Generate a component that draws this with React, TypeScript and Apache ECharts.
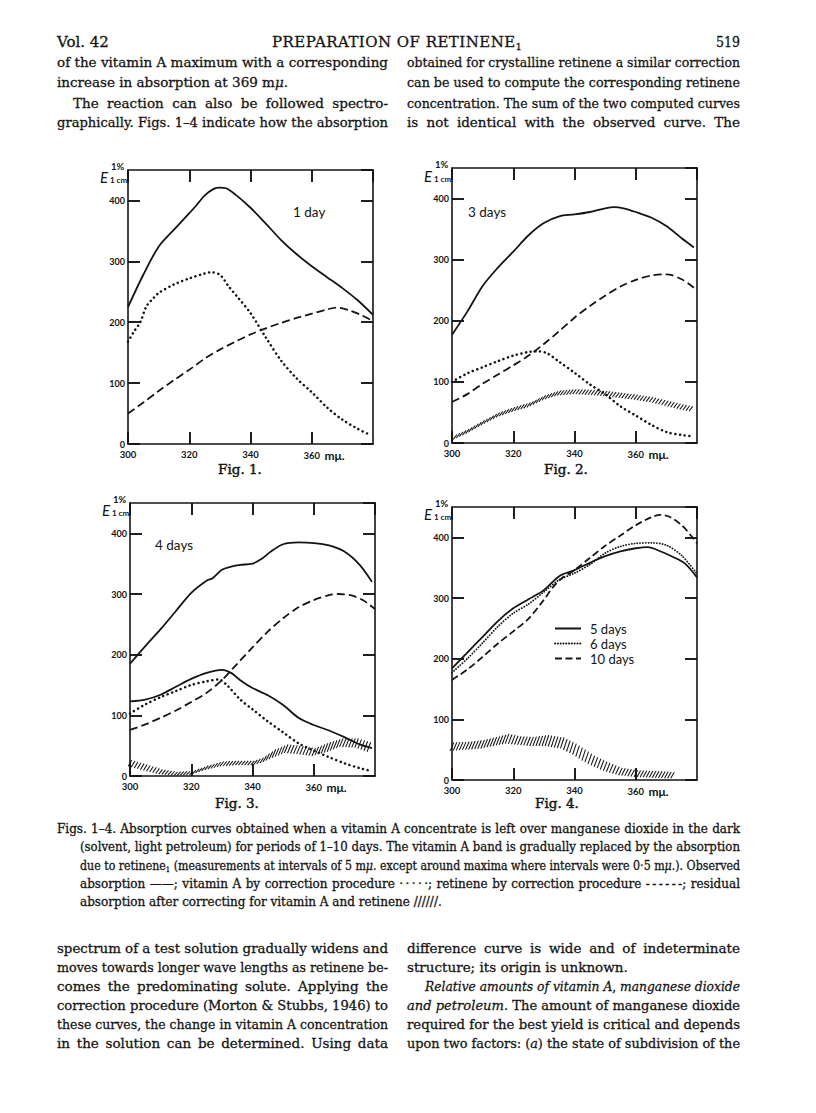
import React, { useEffect, useLayoutEffect, useRef } from "react";
import * as echarts from "echarts";

const INK = "#141414";

// ---------- Fig. 1 : 1 day ----------
const fig1ObsX = [300, 305, 310, 315, 320, 322, 325, 328, 330, 332, 335, 340, 345, 350, 355, 360, 365, 370, 375, 380];
const fig1ObsY = [225, 278, 324, 352, 379, 390, 408, 419, 421, 420, 410, 388, 362, 335, 312, 292, 274, 256, 236, 212];
const fig1VitX = [300, 302, 304, 306, 308, 310, 315, 320, 325, 327, 330, 333, 336, 340, 345, 350, 355, 360, 365, 370, 375, 379];
const fig1VitY = [168, 185, 200, 226, 238, 248, 262, 272, 280, 282, 278, 258, 240, 215, 175, 137, 108, 85, 60, 40, 25, 15];
const fig1RetX = [300, 305, 310, 315, 320, 325, 330, 335, 340, 345, 350, 355, 360, 365, 368, 372, 376, 380];
const fig1RetY = [50, 68, 87, 105, 122, 140, 155, 168, 180, 190, 199, 207, 214, 221, 224, 220, 212, 202];

// ---------- Fig. 2 : 3 days ----------
const fig2ObsX = [300, 305, 310, 315, 320, 325, 330, 335, 340, 345, 350, 353, 356, 360, 365, 370, 375, 379];
const fig2ObsY = [177, 215, 257, 287, 313, 340, 360, 371, 374, 378, 384, 386, 384, 378, 369, 355, 335, 320];
const fig2VitX = [300, 305, 310, 315, 320, 325, 328, 331, 335, 340, 345, 350, 355, 360, 365, 370, 375, 379];
const fig2VitY = [100, 114, 124, 134, 143, 149, 150, 147, 133, 115, 96, 80, 60, 45, 30, 18, 13, 11];
const fig2RetX = [300, 305, 310, 315, 320, 325, 330, 335, 340, 345, 350, 355, 360, 365, 370, 375, 379];
const fig2RetY = [67, 80, 97, 112, 127, 143, 162, 183, 205, 224, 241, 256, 267, 274, 276, 268, 254];
const fig2ResX = [301, 305, 310, 315, 320, 325, 330, 335, 340, 345, 350, 355, 360, 365, 370, 375, 379];
const fig2ResLo = [6, 15, 29, 42, 51, 58, 70, 78, 80, 79, 77, 74, 71, 67, 61, 55, 51];
const fig2ResHi = [14, 23, 37, 50, 59, 66, 78, 86, 88, 87, 85, 82, 79, 75, 69, 63, 59];

// ---------- Fig. 3 : 4 days ----------
const fig3ObsX = [300, 305, 310, 315, 320, 325, 327, 330, 333, 336, 340, 343, 346, 350, 355, 360, 365, 370, 375, 379];
const fig3ObsY = [185, 214, 242, 272, 302, 322, 326, 340, 345, 348, 350, 358, 370, 382, 385, 384, 380, 370, 348, 320];
const fig3LowX = [300, 305, 310, 315, 320, 325, 330, 333, 336, 340, 345, 350, 355, 360, 365, 370, 375, 379];
const fig3LowY = [123, 126, 134, 147, 160, 170, 175, 170, 158, 145, 133, 117, 96, 84, 75, 64, 52, 46];
const fig3VitX = [300, 305, 310, 315, 320, 325, 329, 332, 336, 340, 345, 350, 355, 360, 365, 370, 375, 379];
const fig3VitY = [103, 118, 130, 140, 150, 156, 159, 148, 126, 110, 90, 72, 54, 42, 31, 21, 13, 8];
const fig3RetX = [300, 305, 310, 315, 320, 325, 330, 335, 340, 345, 350, 355, 360, 365, 368, 372, 376, 380];
const fig3RetY = [76, 85, 96, 108, 122, 137, 158, 185, 212, 238, 260, 278, 290, 298, 300, 298, 290, 275];
const fig3ResX = [300, 305, 310, 315, 320, 325, 330, 335, 340, 343, 347, 351, 355, 360, 365, 369, 374, 379];
const fig3ResLo = [16, 9, 3, 1, 2, 10, 16, 18, 18, 21, 30, 38, 36, 33, 40, 48, 47, 38];
const fig3ResHi = [26, 19, 11, 7, 8, 17, 24, 25, 25, 30, 44, 52, 50, 46, 56, 62, 62, 54];

// ---------- Fig. 4 : 5, 6 and 10 days ----------
const fig4D5X = [300, 305, 310, 315, 320, 325, 330, 335, 340, 345, 350, 355, 360, 364, 368, 372, 376, 380];
const fig4D5Y = [184, 210, 236, 262, 283, 298, 313, 336, 346, 358, 369, 377, 382, 384, 377, 368, 357, 334];
const fig4D6X = [300, 305, 310, 315, 320, 325, 330, 335, 340, 345, 350, 355, 360, 365, 370, 375, 380];
const fig4D6Y = [177, 200, 226, 253, 275, 290, 310, 330, 341, 355, 374, 385, 390, 391, 387, 370, 340];
const fig4D10X = [300, 305, 310, 315, 320, 325, 330, 333, 336, 340, 345, 350, 355, 360, 365, 368, 371, 375, 378, 380];
const fig4D10Y = [165, 182, 203, 225, 245, 266, 297, 318, 333, 346, 366, 386, 403, 420, 433, 437, 434, 420, 403, 390];
const fig4ResX = [300, 305, 310, 315, 318, 322, 326, 331, 336, 340, 343, 346, 350, 355, 360, 365, 370, 373];
const fig4ResLo = [48, 50, 52, 57, 60, 58, 56, 56, 52, 42, 32, 24, 15, 8, 5, 4, 3, 3];
const fig4ResHi = [62, 63, 66, 72, 76, 72, 71, 74, 70, 60, 50, 40, 30, 20, 16, 15, 14, 12];

// axes
const X_MIN = 300;
const X_MAX = 380;
const X_STEP = 20;
const Y_MIN = 0;
const Y_MAX = 450;
const Y_STEP = 100;
const legendNames = ["5 days", "6 days", "10 days"];
const figCaptions = ["Fig. 1.", "Fig. 2.", "Fig. 3.", "Fig. 4."];
const figNotes = ["1 day", "3 days", "4 days", ""];

// layout (pixels)
const GRIDS = [
  { left: 128, top: 170, width: 245, height: 274 },
  { left: 452, top: 168, width: 245, height: 275 },
  { left: 130, top: 503, width: 245, height: 273 },
  { left: 452, top: 507, width: 245, height: 273 },
];
const CAPTION_POS = [
  [240, 469],
  [566, 469],
  [237, 803],
  [557, 803],
];
const NOTE_POS = [
  [165, 42],
  [16, 44],
  [25, 42],
  [0, 0],
];

const STYLES: any = {
  solid: { type: "solid", width: 1.8 },
  dotted: { type: [0.1, 4.6], width: 2.5, cap: "round" },
  dashed: { type: [8, 4], width: 1.8 },
  fineDotted: { type: [0.1, 2.7], width: 1.8, cap: "round" },
  dashed10: { type: [7, 3.5], width: 1.8 },
};

const zip = (xs: number[], ys: number[]) => xs.map((x, i) => [x, ys[i]]);

const FIGS: any[] = [
  {
    lines: [
      { name: "Observed absorption, 1 day", x: fig1ObsX, y: fig1ObsY, s: "solid" },
      { name: "Vitamin A, 1 day", x: fig1VitX, y: fig1VitY, s: "dotted" },
      { name: "Retinene, 1 day", x: fig1RetX, y: fig1RetY, s: "dashed" },
    ],
  },
  {
    lines: [
      { name: "Observed absorption, 3 days", x: fig2ObsX, y: fig2ObsY, s: "solid" },
      { name: "Vitamin A, 3 days", x: fig2VitX, y: fig2VitY, s: "dotted" },
      { name: "Retinene, 3 days", x: fig2RetX, y: fig2RetY, s: "dashed" },
    ],
    hatch: { x: fig2ResX, lo: fig2ResLo, hi: fig2ResHi },
  },
  {
    lines: [
      { name: "Observed absorption, 4 days", x: fig3ObsX, y: fig3ObsY, s: "solid" },
      { name: "Lower curve, 4 days", x: fig3LowX, y: fig3LowY, s: "solid" },
      { name: "Vitamin A, 4 days", x: fig3VitX, y: fig3VitY, s: "dotted" },
      { name: "Retinene, 4 days", x: fig3RetX, y: fig3RetY, s: "dashed" },
    ],
    hatch: { x: fig3ResX, lo: fig3ResLo, hi: fig3ResHi },
  },
  {
    lines: [
      { name: legendNames[0], x: fig4D5X, y: fig4D5Y, s: "solid" },
      { name: legendNames[1], x: fig4D6X, y: fig4D6Y, s: "fineDotted" },
      { name: legendNames[2], x: fig4D10X, y: fig4D10Y, s: "dashed10" },
    ],
    hatch: { x: fig4ResX, lo: fig4ResLo, hi: fig4ResHi },
  },
];

function hatchSeries(g: number, h: any) {
  const pts = h.x.map((x: number, i: number) => [x, h.lo[i], h.hi[i]]);
  return {
    type: "custom",
    name: "Residual absorption " + (g + 1),
    xAxisIndex: 2 * g,
    yAxisIndex: 2 * g,
    silent: true,
    data: pts,
    encode: { x: 0, y: [1, 2] },
    renderItem: (params: any, api: any) => {
      const i = params.dataIndex;
      if (i >= pts.length - 1) return { type: "group", children: [] };
      const a = pts[i];
      const b = pts[i + 1];
      const l0 = api.coord([a[0], a[1]]);
      const h0 = api.coord([a[0], a[2]]);
      const l1 = api.coord([b[0], b[1]]);
      const h1 = api.coord([b[0], b[2]]);
      const n = Math.max(1, Math.round((l1[0] - l0[0]) / 2.9));
      const children: any[] = [];
      for (let k = 0; k < n; k++) {
        const t = k / n;
        const lx = l0[0] + t * (l1[0] - l0[0]);
        const ly = l0[1] + t * (l1[1] - l0[1]);
        const hx = h0[0] + t * (h1[0] - h0[0]);
        const hy = h0[1] + t * (h1[1] - h0[1]);
        children.push({
          type: "line",
          shape: { x1: lx - 1.8, y1: ly, x2: hx + 1.8, y2: hy },
          style: { stroke: INK, lineWidth: 1.05 },
        });
      }
      return { type: "group", children };
    },
  };
}

function buildOption() {
  const grid = GRIDS.map((g) => ({ ...g, show: false }));
  const xAxis: any[] = [];
  const yAxis: any[] = [];
  const axisLine = { show: true, onZero: false, lineStyle: { color: INK, width: 1.6 } };
  const axisTick = { show: true, inside: true, length: 12, lineStyle: { color: INK, width: 1.9 } };
  GRIDS.forEach((_, g) => {
    xAxis.push({
      type: "value",
      gridIndex: g,
      position: "bottom",
      min: X_MIN,
      max: X_MAX,
      interval: X_STEP,
      axisLine,
      axisTick,
      splitLine: { show: false },
      axisLabel: {
        show: true,
        margin: 5,
        showMinLabel: true,
        showMaxLabel: false,
        color: INK,
        fontFamily: "Lato",
        fontWeight: "bold",
        fontSize: 9.5,
        formatter: (v: number) => (v === X_MAX ? "" : v === 360 ? "{s| }{v|360}{u| mμ.}" : String(v)),
        rich: {
          s: { width: 26 },
          v: { fontFamily: "Lato", fontWeight: "bold", fontSize: 9.5, color: INK },
          u: { fontFamily: "Lato", fontSize: 12, color: INK, width: 26, align: "left" },
        },
      },
    });
    xAxis.push({
      type: "value",
      gridIndex: g,
      position: "top",
      min: X_MIN,
      max: X_MAX,
      interval: X_STEP,
      axisLine,
      axisTick,
      splitLine: { show: false },
      axisLabel: { show: false },
    });
    yAxis.push({
      type: "value",
      gridIndex: g,
      position: "left",
      min: Y_MIN,
      max: Y_MAX,
      interval: Y_STEP,
      axisLine,
      axisTick,
      splitLine: { show: false },
      axisLabel: {
        show: true,
        margin: 3,
        showMaxLabel: false,
        color: INK,
        fontFamily: "Lato",
        fontWeight: "bold",
        fontSize: 9,
        formatter: (v: number) => (v > 400 ? "" : String(v)),
      },
    });
    yAxis.push({
      type: "value",
      gridIndex: g,
      position: "right",
      min: Y_MIN,
      max: Y_MAX,
      interval: Y_STEP,
      axisLine,
      axisTick,
      splitLine: { show: false },
      axisLabel: { show: false },
    });
  });

  const series: any[] = [];
  FIGS.forEach((f, g) => {
    f.lines.forEach((ln: any) => {
      const st = STYLES[ln.s];
      series.push({
        type: "line",
        name: ln.name,
        xAxisIndex: 2 * g,
        yAxisIndex: 2 * g,
        data: zip(ln.x, ln.y),
        symbol: "none",
        showSymbol: false,
        smooth: 0.3,
        silent: true,
        lineStyle: { color: INK, width: st.width, type: st.type, cap: st.cap || "butt" },
        itemStyle: { color: INK },
      });
    });
    if (f.hatch) series.push(hatchSeries(g, f.hatch));
  });

  const graphic: any[] = [];
  GRIDS.forEach((gr, g) => {
    const y400 = gr.top + gr.height * (1 - 400 / Y_MAX);
    graphic.push({
      type: "text",
      x: gr.left - 24,
      y: y400 - 23,
      style: { text: "E", fontFamily: "Lato", fontStyle: "italic", fontSize: 15, fill: INK, align: "center", verticalAlign: "middle" },
    });
    graphic.push({
      type: "text",
      x: gr.left - 17,
      y: y400 - 34,
      style: { text: "1%", fontFamily: "Lato", fontWeight: "bold", fontSize: 9.5, fill: INK, align: "left", verticalAlign: "middle" },
    });
    graphic.push({
      type: "text",
      x: gr.left - 18,
      y: y400 - 20,
      style: { text: "1 cm.", fontFamily: "Lato", fontWeight: "bold", fontSize: 8, fill: INK, align: "left", verticalAlign: "middle" },
    });
    graphic.push({
      type: "text",
      x: CAPTION_POS[g][0],
      y: CAPTION_POS[g][1],
      style: {
        text: figCaptions[g],
        fontFamily: "DejaVu Serif",
        fontSize: 13.5,
        fill: INK,
        stroke: INK,
        lineWidth: 0.45,
        align: "center",
        verticalAlign: "middle",
      },
    });
    if (figNotes[g]) {
      graphic.push({
        type: "text",
        x: gr.left + NOTE_POS[g][0],
        y: gr.top + NOTE_POS[g][1],
        style: { text: figNotes[g], fontFamily: "Lato", fontSize: 13.5, fill: INK, align: "left", verticalAlign: "middle" },
      });
    }
  });

  return {
    animation: false,
    backgroundColor: "transparent",
    grid,
    xAxis,
    yAxis,
    series,
    graphic,
    legend: {
      show: true,
      data: legendNames,
      orient: "vertical",
      left: 549,
      top: 617,
      itemWidth: 26,
      itemHeight: 12,
      itemGap: 2,
      selectedMode: false,
      itemStyle: { opacity: 0 },
      textStyle: { fontFamily: "Lato", fontSize: 13, color: INK, padding: [0, 0, 0, 4] },
    },
  };
}

// ---------- page text ----------
type LineDef = { x: number; y: number; w: number; s: string; j: boolean | string; k: string };

const BODY = "body";
const CAP = "cap";
const HEAD = "head";

const pageLines: LineDef[] = [
  { x: 57, y: 42, w: 52, s: "Vol. 42", j: false, k: HEAD },
  { x: 272, y: 42, w: 250, s: "PREPARATION OF RETINENE~", j: "ls", k: HEAD },
  { x: 716, y: 42, w: 24, s: "519", j: false, k: HEAD },

  { x: 57, y: 62, w: 331, s: "of the vitamin A maximum with a corresponding", j: true, k: BODY },
  { x: 57, y: 82, w: 331, s: "increase in absorption at 369 m*μ*.", j: false, k: BODY },
  { x: 73, y: 103, w: 315, s: "The reaction can also be followed spectro-", j: true, k: BODY },
  { x: 57, y: 122, w: 331, s: "graphically. Figs. 1–4 indicate how the absorption", j: true, k: BODY },
  { x: 407, y: 62, w: 333, s: "obtained for crystalline retinene a similar correction", j: true, k: BODY },
  { x: 407, y: 82, w: 333, s: "can be used to compute the corresponding retinene", j: true, k: BODY },
  { x: 407, y: 103, w: 333, s: "concentration. The sum of the two computed curves", j: true, k: BODY },
  { x: 407, y: 122, w: 333, s: "is not identical with the observed curve. The", j: true, k: BODY },

  { x: 57, y: 829, w: 683, s: "Figs. 1–4. Absorption curves obtained when a vitamin A concentrate is left over manganese dioxide in the dark", j: true, k: CAP },
  { x: 80, y: 847, w: 660, s: "(solvent, light petroleum) for periods of 1–10 days. The vitamin A band is gradually replaced by the absorption", j: true, k: CAP },
  { x: 80, y: 866, w: 660, s: "due to retinene~ (measurements at intervals of 5 m*μ*. except around maxima where intervals were 0·5 m*μ*.). Observed", j: true, k: CAP },
  { x: 80, y: 884, w: 660, s: "absorption ——; vitamin A by correction procedure ·\u2009·\u2009·\u2009·\u2009·; retinene by correction procedure -\u2009-\u2009-\u2009-\u2009-\u2009-; residual", j: true, k: CAP },
  { x: 80, y: 902, w: 660, s: "absorption after correcting for vitamin A and retinene //////.", j: false, k: CAP },

  { x: 57, y: 948, w: 331, s: "spectrum of a test solution gradually widens and", j: true, k: BODY },
  { x: 57, y: 967, w: 331, s: "moves towards longer wave lengths as retinene be-", j: true, k: BODY },
  { x: 57, y: 986, w: 331, s: "comes the predominating solute. Applying the", j: true, k: BODY },
  { x: 57, y: 1005, w: 331, s: "correction procedure (Morton & Stubbs, 1946) to", j: true, k: BODY },
  { x: 57, y: 1024, w: 331, s: "these curves, the change in vitamin A concentration", j: true, k: BODY },
  { x: 57, y: 1043, w: 331, s: "in the solution can be determined. Using data", j: true, k: BODY },
  { x: 407, y: 948, w: 333, s: "difference curve is wide and of indeterminate", j: true, k: BODY },
  { x: 407, y: 967, w: 333, s: "structure; its origin is unknown.", j: false, k: BODY },
  { x: 425, y: 986, w: 315, s: "*Relative amounts of vitamin A*, *manganese dioxide*", j: true, k: BODY },
  { x: 407, y: 1005, w: 333, s: "*and petroleum*. The amount of manganese dioxide", j: true, k: BODY },
  { x: 407, y: 1024, w: 333, s: "required for the best yield is critical and depends", j: true, k: BODY },
  { x: 407, y: 1043, w: 333, s: "upon two factors: (*a*) the state of subdivision of the", j: true, k: BODY },
];

const KIND_STYLE: any = {
  body: { fontSize: 13.5, lh: 18 },
  cap: { fontSize: 12, lh: 17 },
  head: { fontSize: 15, lh: 20 },
};

function renderSegs(s: string) {
  const parts = s.split(/(\*[^*]*\*|~)/);
  return parts.map((p, i) => {
    if (p === "~") {
      return (
        <span key={i} style={{ fontSize: "0.62em", verticalAlign: "-0.3em" }}>
          1
        </span>
      );
    }
    if (p.startsWith("*") && p.endsWith("*") && p.length >= 2) {
      return (
        <span key={i} style={{ fontStyle: "italic" }}>
          {p.slice(1, -1)}
        </span>
      );
    }
    return <React.Fragment key={i}>{p}</React.Fragment>;
  });
}

function TextLine({ d }: { d: LineDef }) {
  const ref = useRef<HTMLSpanElement>(null);
  const ks = KIND_STYLE[d.k];
  useLayoutEffect(() => {
    const fit = () => {
      const el = ref.current;
      if (!el) return;
      el.style.wordSpacing = "0px";
      el.style.letterSpacing = "0px";
      el.style.transform = "none";
      const nat = el.getBoundingClientRect().width;
      const txt = el.textContent || "";
      const spaces = (txt.match(/ /g) || []).length;
      if (nat > d.w) {
        el.style.transform = `scaleX(${d.w / nat})`;
      } else if (d.j === "ls") {
        el.style.letterSpacing = `${(d.w - nat) / txt.length}px`;
      } else if (d.j && spaces > 0) {
        el.style.wordSpacing = `${(d.w - nat) / spaces}px`;
      }
    };
    fit();
    const fonts: any = (document as any).fonts;
    if (fonts && fonts.ready) fonts.ready.then(fit);
  }, [d]);
  return (
    <div
      style={{
        position: "absolute",
        left: d.x,
        top: d.y - ks.lh / 2,
        height: ks.lh,
        lineHeight: ks.lh + "px",
        whiteSpace: "nowrap",
        fontFamily: "'DejaVu Serif', serif",
        fontSize: ks.fontSize,
        color: INK,
        WebkitTextStroke: "0.3px " + INK,
      }}
    >
      <span ref={ref} style={{ display: "inline-block", transformOrigin: "left center" }}>
        {renderSegs(d.s)}
      </span>
    </div>
  );
}

export default function App() {
  const ref = useRef<HTMLDivElement>(null);
  useEffect(() => {
    if (!ref.current) return;
    const chart = echarts.init(ref.current, undefined, { renderer: "svg" });
    chart.setOption(buildOption() as any);
    return () => {
      chart.dispose();
    };
  }, []);
  return (
    <div style={{ position: "absolute", left: 0, top: 0, width: 816, height: 1113, background: "#fff", overflow: "hidden" }}>
      <div ref={ref} style={{ position: "absolute", left: 0, top: 0, width: 816, height: 1113 }} />
      <div style={{ position: "absolute", left: 0, top: 0, width: 816, height: 1113, pointerEvents: "none" }}>
        {pageLines.map((d, i) => (
          <TextLine key={i} d={d} />
        ))}
      </div>
    </div>
  );
}
